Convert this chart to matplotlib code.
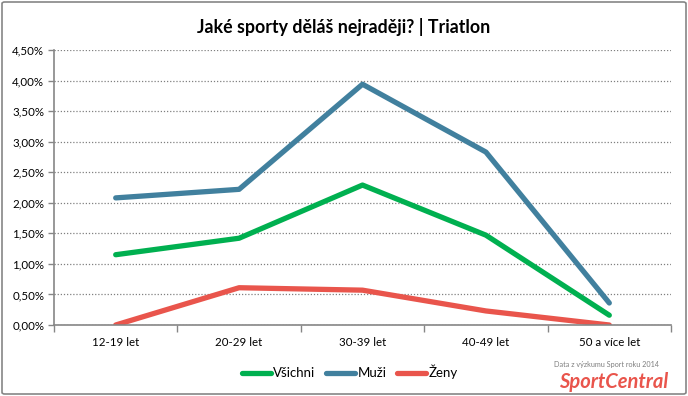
import matplotlib.pyplot as plt
from matplotlib.patches import FancyBboxPatch
from matplotlib.ticker import FuncFormatter, MultipleLocator
import numpy as np

plt.rcParams['font.family'] = ['Lato', 'DejaVu Sans']

categories = ["12-19 let", "20-29 let", "30-39 let", "40-49 let", "50 a více let"]
vsichni = [1.15, 1.42, 2.29, 1.47, 0.16]
muzi = [2.08, 2.22, 3.94, 2.83, 0.36]
zeny = [0.0, 0.61, 0.57, 0.23, 0.0]

W, H = 688, 396
fig = plt.figure(figsize=(W / 100, H / 100), dpi=100)
ax = fig.add_axes([54 / W, 1 - 325 / H, (671 - 54) / W, (325 - 50) / H])

x = np.arange(len(categories))
lw = 3.8
ax.plot(x, vsichni, color="#00B050", lw=lw, solid_capstyle="round", label="Všichni")
ax.plot(x, muzi, color="#41809E", lw=lw, solid_capstyle="round", label="Muži")
ax.plot(x, zeny, color="#E9554C", lw=lw, solid_capstyle="round", label="Ženy")

ax.set_xlim(-0.5, len(categories) - 0.5)
ax.set_ylim(0, 4.5)
ax.yaxis.set_major_locator(MultipleLocator(0.5))
ax.yaxis.set_major_formatter(FuncFormatter(lambda v, p: f"{v:.2f}%".replace(".", ",")))
ax.grid(axis="y", color="#808080", linestyle=(0, (1, 1.5)), linewidth=0.9)
ax.set_axisbelow(True)

ax.set_xticks(x)
ax.set_xticklabels(categories)
ax.set_xticks(np.arange(-0.5, len(categories)), minor=True)
ax.tick_params(axis="x", which="major", length=0, pad=9, labelsize=8.3)
ax.tick_params(axis="x", which="minor", length=5, color="#868686", width=1)
ax.tick_params(axis="y", length=4, color="#868686", width=1, labelsize=8.3, pad=3)

for s in ["top", "right"]:
    ax.spines[s].set_visible(False)
for s in ["left", "bottom"]:
    ax.spines[s].set_color("#868686")
    ax.spines[s].set_linewidth(1.2)

fig.text(0.5, 1 - 27 / H, "Jaké sporty děláš nejraději? | Triatlon", ha="center", va="center",
         fontsize=12.8, fontweight="bold")

fig.legend(loc="center", bbox_to_anchor=(350 / W, 1 - 372 / H), ncol=3, frameon=False,
           fontsize=9.5, handlelength=2.2, handletextpad=0.2, columnspacing=0.8)

fig.text(606 / W, 1 - 365 / H, "Data z výzkumu Sport roku 2014", ha="center", va="center",
         fontsize=5.2, color="#7F7F7F")
fig.text(614 / W, 1 - 382 / H, "SportCentral", ha="center", va="center",
         fontsize=14.5, color="#E9554C", fontweight="bold", style="italic")

border = FancyBboxPatch((2 / W, 2 / H), 1 - 4 / W, 1 - 4 / H, boxstyle="round,pad=0,rounding_size=0.004",
                        transform=fig.transFigure, fill=False, edgecolor="#868686", linewidth=1.2)
fig.patches.append(border)

fig.savefig("out.png", dpi=100)
